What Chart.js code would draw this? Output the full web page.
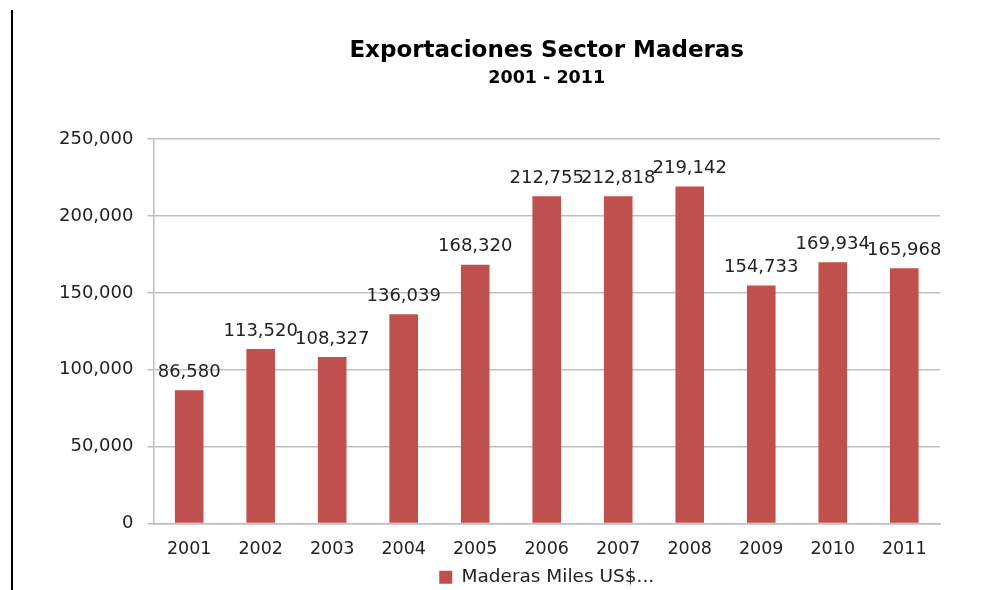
<!DOCTYPE html>
<html>
<head>
<meta charset="utf-8">
<script src="https://cdn.jsdelivr.net/npm/chart.js@4.4.1/dist/chart.umd.min.js"></script>
<style>
  html, body { margin: 0; padding: 0; background: #fff; overflow: hidden; }
  #marco { position: absolute; left: 11px; top: 10px; width: 0; height: 580px; border-left: 2.5px solid #000; }
  #contenedor { position: absolute; left: 0; top: 0; width: 982px; height: 590px; }
</style>
</head>
<body>
<div id="marco"></div>
<div id="contenedor"><canvas id="graficoMaderas" width="982" height="590"></canvas></div>
<script>
// Datos
const anios = ["2001", "2002", "2003", "2004", "2005", "2006", "2007", "2008", "2009", "2010", "2011"];
const exportaciones = [86580, 113520, 108327, 136039, 168320, 212755, 212818, 219142, 154733, 169934, 165968];
const nombreSerie = "Maderas Miles US$...";
const tituloPrincipal = "Exportaciones Sector Maderas";
const subtitulo = "2001 - 2011";

const fuente = "'DejaVu Sans', sans-serif";
const formato = v => Number(v).toLocaleString("en-US");

// Etiquetas de valor encima de cada barra
const etiquetasBarras = {
    id: "etiquetasBarras",
    afterDatasetsDraw(chart) {
        const ctx = chart.ctx;
        const meta = chart.getDatasetMeta(0);
        ctx.save();
        ctx.font = "18px " + fuente;
        ctx.fillStyle = "#222";
        ctx.textAlign = "center";
        ctx.textBaseline = "middle";
        meta.data.forEach((barra, i) => {
            ctx.fillText(formato(chart.data.datasets[0].data[i]), barra.x, barra.y - 18);
        });
        ctx.restore();
    }
};

const ctx = document.getElementById("graficoMaderas").getContext("2d");
new Chart(ctx, {
    type: "bar",
    data: {
        labels: anios,
        datasets: [{
            label: nombreSerie,
            data: exportaciones,
            backgroundColor: "#C0504D",
            borderWidth: 0,
            barPercentage: 0.4,
            categoryPercentage: 1
        }]
    },
    options: {
        responsive: false,
        animation: false,
        devicePixelRatio: 1,
        layout: { padding: { left: 45, right: 42, top: 0, bottom: -6.5 } },
        plugins: {
            title: {
                display: true,
                text: tituloPrincipal,
                fullSize: false,
                color: "#000",
                font: { family: fuente, size: 23, weight: "bold" },
                padding: { top: 37, bottom: 2 }
            },
            subtitle: {
                display: true,
                text: subtitulo,
                fullSize: false,
                color: "#000",
                font: { family: fuente, size: 17.5, weight: "bold" },
                padding: { top: 1, bottom: 50.5 }
            },
            legend: {
                display: true,
                position: "bottom",
                fullSize: false,
                labels: {
                    color: "#222",
                    font: { family: fuente, size: 18.5 },
                    boxWidth: 13,
                    boxHeight: 13,
                    padding: 0
                }
            },
            tooltip: { enabled: false }
        },
        scales: {
            x: {
                grid: { display: false, drawTicks: false },
                border: { display: true, color: "#BFBFBF", width: 1.5 },
                ticks: {
                    color: "#222",
                    font: { family: fuente, size: 17.5 },
                    padding: 15,
                    maxRotation: 0
                },
                afterFit: escala => { escala.height = 44.5; }
            },
            y: {
                min: 0,
                max: 250000,
                grid: { color: "#BFBFBF", lineWidth: 1.5, tickLength: 6 },
                border: { display: true, color: "#BFBFBF", width: 1.5 },
                ticks: {
                    stepSize: 50000,
                    color: "#222",
                    font: { family: fuente, size: 18 },
                    padding: 14,
                    callback: v => formato(v)
                }
            }
        }
    },
    plugins: [etiquetasBarras]
});
</script>
</body>
</html>
